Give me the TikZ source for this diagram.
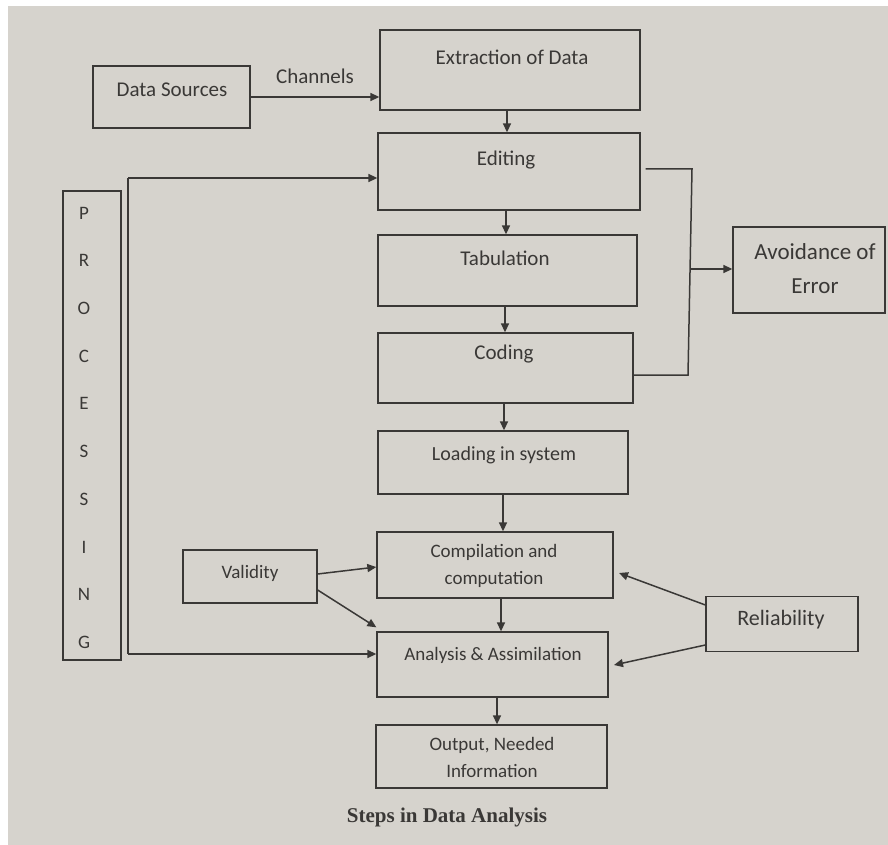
\documentclass[tikz,border=0pt]{standalone}
\usepackage{fontspec}
\setmainfont{Carlito}
\newfontfamily\capfont{Liberation Serif}
\usetikzlibrary{arrows.meta}

\definecolor{paper}{RGB}{214,211,205}
\definecolor{ink}{RGB}{58,56,54}

\begin{document}
\begin{tikzpicture}[x=1pt,y=-1pt,
  box/.style={draw=ink, line width=1.3pt, inner sep=0pt},
  lbl/.style={text=ink, font=\fontsize{21}{29}\selectfont, align=center, inner sep=0pt},
  small/.style={font=\fontsize{19}{27}\selectfont},
  flow/.style={draw=ink, line width=1.5pt, -{Triangle[length=9pt,width=8pt]}},
  wire/.style={draw=ink, line width=1.5pt}]
% paper
\useasboundingbox (0,0) rectangle (888,845);
\fill[paper] (0,0) rectangle (888,845);
\fill[white] (0,0) rectangle (888,6);
\fill[white] (0,0) rectangle (8,845);

% main column
\node[box, minimum width=157pt, minimum height=62pt] (ds)   at (171.5,97) {};
\node[lbl] (dst) at (172,90) {Data Sources};
\node[box, minimum width=260pt, minimum height=80pt] (ext)  at (510,70) {};
\node[lbl] (extt) at (512,57) {Extraction of Data};
\node[box, minimum width=262pt, minimum height=77pt] (edit) at (509,171.5) {};
\node[lbl] (editt) at (506,160) {Editing};
\node[box, minimum width=259pt, minimum height=71pt] (tab)  at (507.5,270.5) {};
\node[lbl] (tabt) at (505,258) {Tabulation};
\node[box, minimum width=255pt, minimum height=70pt] (cod)  at (505.5,368) {};
\node[lbl] (codt) at (504,354) {Coding};
\node[box, minimum width=250pt, minimum height=63pt] (load) at (503,462.5) {};
\node[lbl, font=\fontsize{20}{28}\selectfont] (loadt) at (504,455) {Loading in system};
\node[box, minimum width=236pt, minimum height=66pt] (comp) at (495,565) {};
\node[lbl, small] (compt) at (494,566) {Compilation and\\computation};
\node[box, minimum width=231pt, minimum height=65pt] (anal) at (492.5,664.5) {};
\node[lbl, small] (analt) at (493,655) {Analysis \& Assimilation};
\node[box, minimum width=231pt, minimum height=63pt] (out)  at (491.5,756.5) {};
\node[lbl, small] (outt) at (492,757) {Output, Needed\\Information};

% side boxes
\node[box, minimum width=58pt, minimum height=469pt] (proc) at (92,425.5) {};
\foreach \ch [count=\i from 0] in {P,R,O,C,E,S,S,I,N,G}
  \node[lbl, small] (proc\i) at (84,{213+47.7*\i}) {\ch};
\node[box, minimum width=134pt, minimum height=53pt] (val) at (250,576.5) {};
\node[lbl, small] (valt) at (250,573) {Validity};
\node[box, minimum width=152pt, minimum height=55pt] (rel) at (782,624) {};
\node[lbl, font=\fontsize{22}{30}\selectfont] (relt) at (781,620) {Reliability};
\node[box, minimum width=152pt, minimum height=86pt] (avoid) at (809,270) {};
\node[lbl, font=\fontsize{23}{34}\selectfont] (avoidt) at (815,269) {Avoidance of\\Error};

% data flow down the column
\draw[flow] (ds.east) -- (ds.east -| ext.west)
  node[lbl, midway, above=13pt] (chan) {Channels};
\coordinate (s1) at (507,110);
\coordinate (s2) at (506,210);
\coordinate (s3) at (505,306);
\coordinate (s4) at (504,403);
\coordinate (s5) at (503,494);
\coordinate (s6) at (501,598);
\coordinate (s7) at (497,697);
\draw[flow] (s1) -- (s1 |- edit.north);
\draw[flow] (s2) -- (s2 |- tab.north);
\draw[flow] (s3) -- (s3 |- cod.north);
\draw[flow] (s4) -- (s4 |- load.north);
\draw[flow] (s5) -- (s5 |- comp.north);
\draw[flow] (s6) -- (s6 |- anal.north);
\draw[flow] (s7) -- (s7 |- out.north);

% processing loop
\coordinate (ptop) at (128,178);
\coordinate (pbot) at (128,654);
\draw[wire] (ptop) -- (pbot);
\draw[flow] (ptop) -- (ptop -| edit.west);
\draw[flow] (pbot) -- (pbot -| anal.west);

% validity and reliability (the y axis points down, so a shift up is positive pt)
\coordinate (rtip1) at (619,573);
\coordinate (rtip2) at (614,665);
\draw[flow] ([yshift=2.5pt]val.east) -- ([yshift=-2pt]comp.west);
\draw[flow] ([yshift=-13.5pt]val.east) -- ([yshift=4pt]anal.north west);
\draw[flow] ([yshift=19pt]rel.west) -- (rtip1);
\draw[flow] ([yshift=-21pt]rel.west) -- (rtip2);

% avoidance of error bracket
\coordinate (bt) at (692,169);
\coordinate (bb) at (688,375);
\coordinate (bm) at (690,269);
\draw[wire] ([xshift=5pt]edit.east |- bt) -- (bt) -- (bb) -- (cod.east |- bb);
\draw[flow] (bm) -- (bm -| avoid.west);

% caption
\node[text=ink, font=\capfont\bfseries\fontsize{21}{24}\selectfont, inner sep=0pt] (cap) at (447,817) {Steps in Data Analysis};
\end{tikzpicture}
\end{document}
